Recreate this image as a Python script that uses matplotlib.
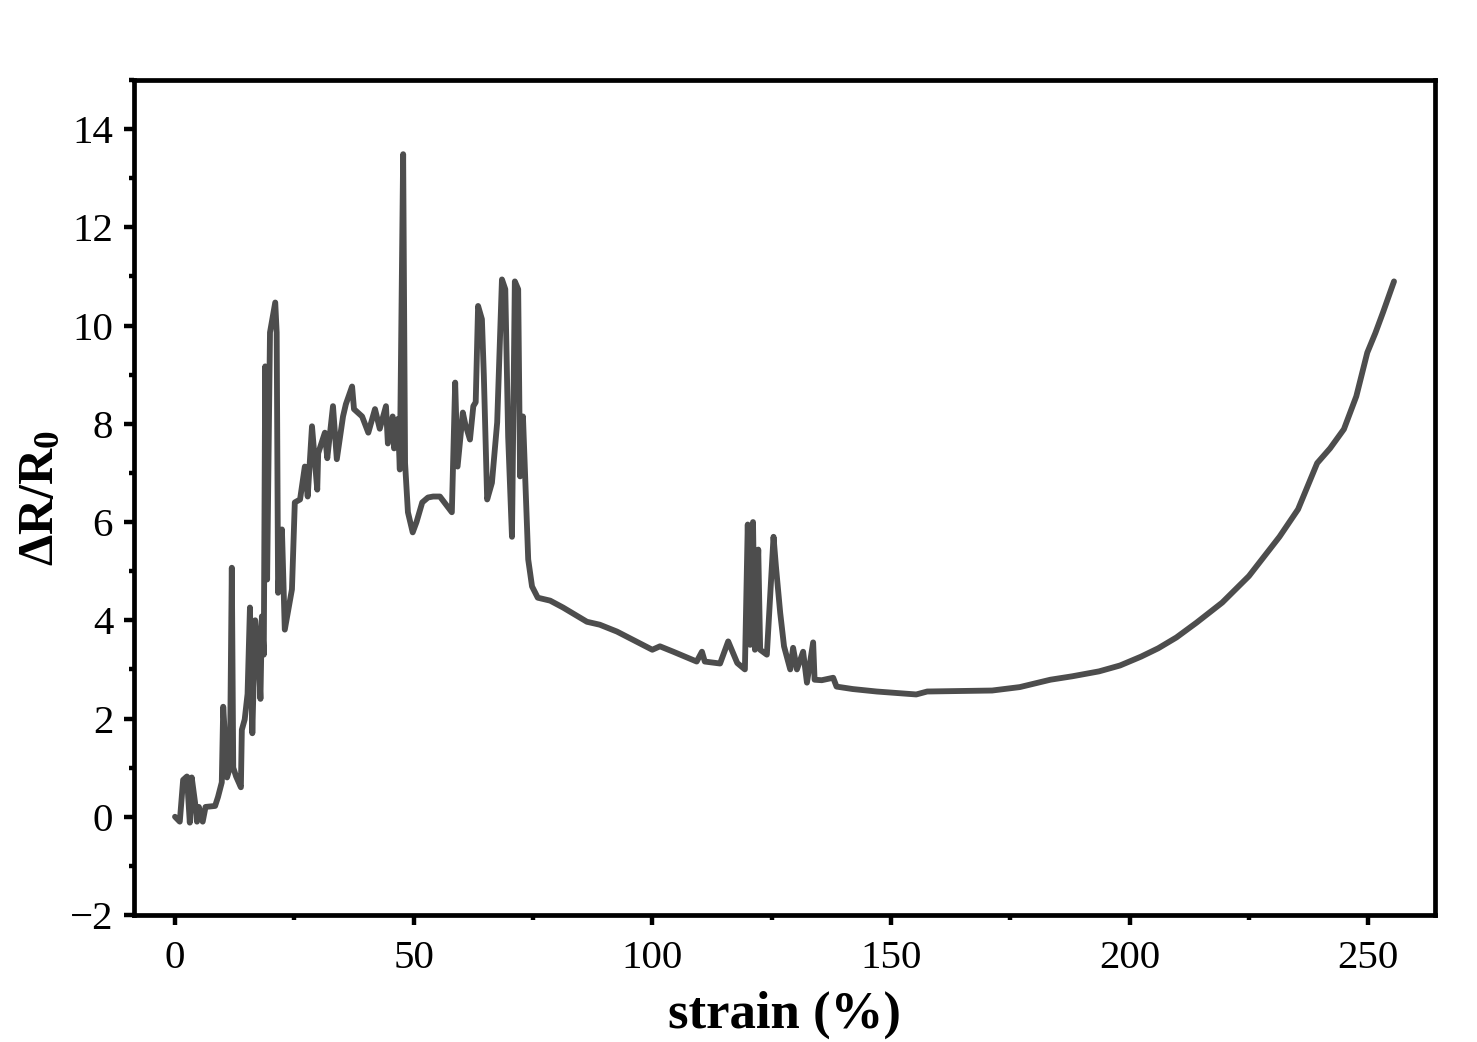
import matplotlib
matplotlib.use("Agg")
import matplotlib.pyplot as plt
from matplotlib.ticker import MultipleLocator

plt.rcParams['font.family'] = ['Liberation Serif', 'DejaVu Serif']
plt.rcParams['mathtext.fontset'] = 'custom'
plt.rcParams['mathtext.rm'] = 'Liberation Serif'
plt.rcParams['mathtext.bf'] = 'Liberation Serif:bold'

strain = [
    0.0, 1.0, 1.7, 2.5, 3.1, 3.5, 4.2, 4.6, 5.0, 5.8, 6.4, 8.4, 9.0, 9.8, 10.1, 10.5, 10.9,
    11.5, 11.9, 12.2, 12.8, 13.8, 14.0, 14.6, 15.2, 15.7, 16.2, 16.8, 17.4, 17.9, 18.2,
    18.6, 18.9, 19.3, 19.9, 21.0, 21.3, 21.6, 22.4, 23.0, 24.5, 25.1, 26.2, 27.2, 27.8,
    28.7, 29.8, 30.0, 31.4, 31.9, 33.1, 33.9, 35.2, 35.8, 37.1, 37.5, 39.2, 40.5, 41.9,
    42.9, 44.2, 44.6, 45.6, 45.9, 46.7, 47.1, 47.8, 48.2, 48.8, 49.8, 50.6, 51.8, 53.0,
    54.1, 55.5, 57.2, 58.0, 58.7, 59.2, 60.3, 60.8, 61.8, 62.5, 63.0, 63.5, 64.3, 64.7,
    65.4, 66.4, 67.5, 68.5, 69.2, 69.8, 70.6, 71.2, 71.9, 72.3, 72.9, 74.0, 74.8, 76.0,
    78.6, 81.3, 86.3, 89.0, 92.6, 96.0, 100.0, 101.6, 104.4, 109.3, 110.4, 111.0, 114.2,
    115.9, 117.8, 119.4, 120.0, 120.5, 121.1, 121.5, 122.2, 122.6, 124.0, 125.4, 125.9,
    126.8, 127.6, 128.9, 129.5, 130.3, 131.6, 132.4, 133.7, 134.0, 135.5, 137.9, 138.6,
    142.0, 147.0, 151.0, 155.3, 157.6, 164.0, 171.2, 177.0, 183.4, 188.0, 193.6, 198.0,
    202.4, 206.0, 209.8, 214.0, 219.4, 225.0, 231.4, 235.3, 239.3, 242.0, 244.9, 247.5,
    249.8, 251.5, 253.1, 255.4,
]
dr = [
    0.0, -0.1, 0.75, 0.82, -0.12, 0.8, 0.29, -0.1, 0.2, -0.1, 0.2, 0.22, 0.4, 0.7, 2.24, 1.57,
    0.8, 1.0, 5.07, 1.0, 0.82, 0.6, 1.77, 1.98, 2.5, 4.26, 1.7, 4.0, 3.47, 2.4, 4.08,
    3.3, 9.17, 4.83, 9.86, 10.47, 9.86, 4.56, 5.85, 3.81, 4.63, 6.4, 6.46, 7.13, 6.52,
    7.95, 6.66, 7.4, 7.82, 7.3, 8.36, 7.28, 8.15, 8.4, 8.76, 8.3, 8.15, 7.82, 8.3,
    7.9, 8.36, 7.6, 8.15, 7.5, 8.1, 7.07, 13.49, 7.2, 6.2, 5.79, 6.0, 6.4, 6.5,
    6.52, 6.52, 6.3, 6.2, 8.84, 7.13, 8.23, 8.0, 7.68, 8.36, 8.44, 10.4, 10.13, 9.0,
    6.46, 6.8, 8.03, 10.94, 10.74, 7.74, 5.7, 10.9, 10.74, 6.93, 8.15, 5.24, 4.69, 4.46,
    4.4, 4.26, 3.97, 3.91, 3.77, 3.6, 3.4, 3.47, 3.36, 3.16, 3.36, 3.16, 3.12,
    3.57, 3.13, 3.0, 5.95, 3.5, 6.0, 3.4, 5.44, 3.4, 3.3, 5.7, 5.1,
    4.15, 3.47, 3.0, 3.44, 3.0, 3.36, 2.73, 3.55, 2.79, 2.78, 2.83, 2.65,
    2.6, 2.55, 2.52, 2.49, 2.55, 2.56, 2.57, 2.64, 2.79, 2.86, 2.96, 3.08,
    3.26, 3.43, 3.65, 3.95, 4.36, 4.9, 5.7, 6.26, 7.2, 7.5, 7.89, 8.56,
    9.45, 9.85, 10.27, 10.9,
]

fig = plt.figure(figsize=(14.77, 10.42), dpi=100)
ax = fig.add_axes([0.0907, 0.1219, 0.8809, 0.8013])
ax.plot(strain, dr, color='#4d4d4d', linewidth=4.2, solid_joinstyle='round',
        solid_capstyle='round')

ax.set_xlim(-8.6, 264)
ax.set_ylim(-2, 15)
ax.xaxis.set_major_locator(MultipleLocator(50))
ax.xaxis.set_minor_locator(MultipleLocator(25))
ax.yaxis.set_minor_locator(MultipleLocator(1))
ax.set_yticks([-2, 0, 2, 4, 6, 8, 10, 12, 14])
ax.set_yticklabels(['\u22122', '0', '2', '4', '6', '8', '10', '12', '14'])

for s in ax.spines.values():
    s.set_linewidth(3.4)
ax.tick_params(which='major', direction='out', length=7, width=3.2, labelsize=29.5, pad=8)
ax.tick_params(axis='x', which='major', pad=11)
ax.tick_params(which='minor', direction='out', length=3.5, width=3.2)
ax.tick_params(top=False, right=False, which='both')

ax.set_xlabel('strain (%)', fontsize=38, fontweight='bold', labelpad=10)
ax.set_ylabel(r'$\mathbf{\Delta R/R_0}$', fontsize=36, labelpad=4)

fig.savefig('out.png', dpi=100)
